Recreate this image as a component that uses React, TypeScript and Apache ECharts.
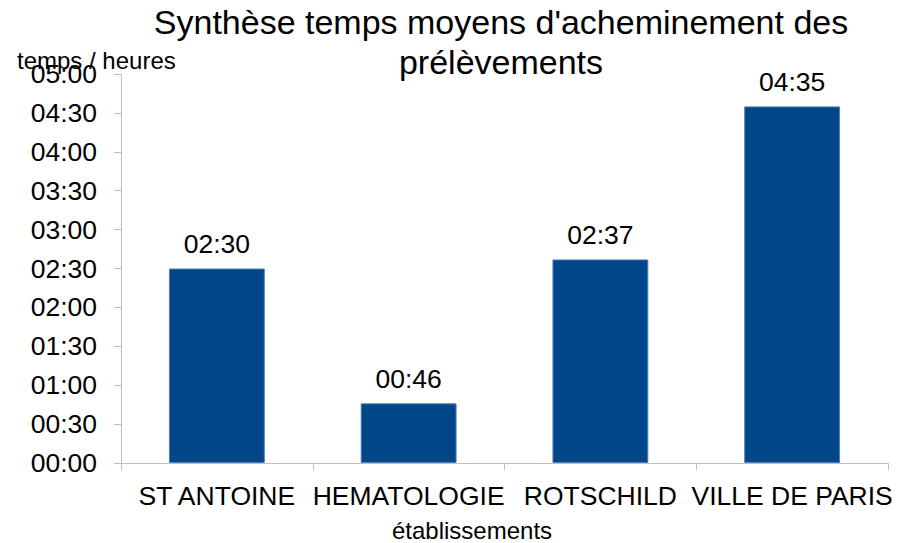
import React, { useEffect, useRef } from "react";
import * as echarts from "echarts";

const categories = ["ST ANTOINE", "HEMATOLOGIE", "ROTSCHILD", "VILLE DE PARIS"];
const minutesValues = [150, 46, 157, 275];
const titleText = "Synthèse temps moyens d'acheminement des\nprélèvements";
const yAxisName = "temps / heures";
const xAxisName = "établissements";

const FONT = "'Liberation Sans', Arial, sans-serif";

function fmt(v: number): string {
  const h = Math.floor(v / 60);
  const m = Math.round(v - h * 60);
  return String(h).padStart(2, "0") + ":" + String(m).padStart(2, "0");
}

export default function App() {
  const ref = useRef<HTMLDivElement>(null);
  useEffect(() => {
    if (!ref.current) return;
    const chart = echarts.init(ref.current, null, { renderer: "svg" });
    chart.setOption({
      animation: false,
      backgroundColor: "#ffffff",
      grid: { left: 121, right: 23, top: 74, bottom: 80, containLabel: false },
      graphic: [
        {
          type: "text",
          x: 501,
          y: 2,
          style: {
            text: titleText,
            font: `34px ${FONT}`,
            fill: "#000",
            textAlign: "center",
            textVerticalAlign: "top",
            lineHeight: 40,
          },
        },
        {
          type: "text",
          x: 17,
          y: 60,
          style: {
            text: yAxisName,
            font: `24px ${FONT}`,
            fill: "#000",
            textAlign: "left",
            textVerticalAlign: "middle",
          },
        },
        {
          type: "text",
          x: 472,
          y: 530,
          style: {
            text: xAxisName,
            font: `24px ${FONT}`,
            fill: "#000",
            textAlign: "center",
            textVerticalAlign: "middle",
          },
        },
      ],
      xAxis: {
        type: "category",
        data: categories,
        boundaryGap: true,
        axisLine: { show: true, lineStyle: { color: "#bfbfbf", width: 1 } },
        axisTick: { show: true, length: 7, lineStyle: { color: "#bfbfbf" } },
        axisLabel: {
          color: "#000",
          fontFamily: FONT,
          fontSize: 26.5,
          margin: 19,
          interval: 0,
        },
        splitLine: { show: false },
      },
      yAxis: {
        type: "value",
        min: 0,
        max: 300,
        interval: 30,
        axisLine: { show: true, lineStyle: { color: "#bfbfbf", width: 1 } },
        axisTick: { show: true, length: 7, lineStyle: { color: "#bfbfbf" } },
        axisLabel: {
          color: "#000",
          fontFamily: FONT,
          fontSize: 26.5,
          margin: 24,
          formatter: (v: number) => fmt(v),
        },
        splitLine: { show: false },
      },
      series: [
        {
          type: "bar",
          data: minutesValues,
          barWidth: "50%",
          itemStyle: { color: "#02468a", borderColor: "#4f80b8", borderWidth: 1 },
          label: {
            show: true,
            position: "top",
            distance: 11,
            color: "#000",
            fontFamily: FONT,
            fontSize: 26.5,
            formatter: (p: any) => fmt(p.value),
          },
        },
      ],
    });
    return () => chart.dispose();
  }, []);
  return (
    <div
      ref={ref}
      style={{ position: "absolute", left: 0, top: 0, width: 911, height: 543 }}
    />
  );
}
